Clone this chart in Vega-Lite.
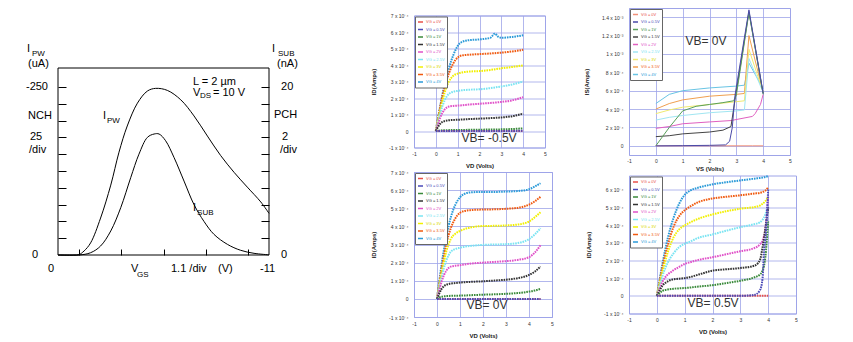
{
"$schema":"https://vega.github.io/schema/vega-lite/v6.json",
"padding":{"left":25,"top":7,"right":0,"bottom":0},
"background":"white",
"spacing":72,
"resolve":{"scale":{"color":"independent"},"legend":{"color":"independent"}},
"datasets":{
"ipw":[{"vgs":0,"ipw":0},{"vgs":-0.83,"ipw":0},{"vgs":-1.09,"ipw":-0.5},{"vgs":-1.36,"ipw":-6},{"vgs":-1.7,"ipw":-18},{"vgs":-2.22,"ipw":-55},{"vgs":-2.75,"ipw":-104},{"vgs":-3.18,"ipw":-153},{"vgs":-3.61,"ipw":-192},{"vgs":-4.14,"ipw":-226},{"vgs":-4.66,"ipw":-244},{"vgs":-5.09,"ipw":-248},{"vgs":-5.7,"ipw":-245},{"vgs":-6.4,"ipw":-231},{"vgs":-7.09,"ipw":-207},{"vgs":-7.79,"ipw":-177},{"vgs":-8.48,"ipw":-148},{"vgs":-9.18,"ipw":-123},{"vgs":-9.87,"ipw":-101},{"vgs":-10.57,"ipw":-79},{"vgs":-11,"ipw":-62}],
"isub":[{"vgs":0,"isub":0},{"vgs":-1.09,"isub":0},{"vgs":-1.7,"isub":0.27},{"vgs":-2.22,"isub":1.07},{"vgs":-2.75,"isub":2.86},{"vgs":-3.27,"isub":5.63},{"vgs":-3.79,"isub":9.2},{"vgs":-4.22,"isub":12.0},{"vgs":-4.66,"isub":14.0},{"vgs":-5.01,"isub":14.4},{"vgs":-5.27,"isub":14.4},{"vgs":-5.61,"isub":13.6},{"vgs":-6.05,"isub":11.6},{"vgs":-6.57,"isub":8.8},{"vgs":-7.09,"isub":6.0},{"vgs":-7.61,"isub":4.0},{"vgs":-8.13,"isub":2.46},{"vgs":-8.83,"isub":1.27},{"vgs":-9.52,"isub":0.56},{"vgs":-10.22,"isub":0.2},{"vgs":-11,"isub":0.02}],
"lt":[{"t":"I","x":1.62,"y":-306},{"t":"(uA)","x":1.56,"y":-284},{"t":"-250","x":1.67,"y":-250},{"t":"NCH","x":1.56,"y":-207},{"t":"25","x":1.46,"y":-175},{"t":"/div","x":1.51,"y":-157},{"t":"0","x":1.36,"y":0},{"t":"0","x":0.52,"y":21},{"t":"V","x":-3.81,"y":21},{"t":"1.1 /div","x":-5.89,"y":21},{"t":"(V)","x":-8.34,"y":21},{"t":"-11","x":-10.53,"y":21},{"t":"I","x":-11.16,"y":-306},{"t":"(nA)","x":-11.42,"y":-284},{"t":"20","x":-11.63,"y":-250},{"t":"PCH","x":-11.26,"y":-208},{"t":"2","x":-11.68,"y":-175},{"t":"/div","x":-11.57,"y":-157},{"t":"0","x":-11.63,"y":0},{"t":"I","x":-2.35,"y":-207},{"t":"I","x":-7.04,"y":-70},{"t":"L = 2 µm","x":-7.04,"y":-257},{"t":"V","x":-7.04,"y":-241},{"t":"= 10 V","x":-8.08,"y":-241}],
"ls":[{"t":"PW","x":1.36,"y":-299},{"t":"SUB","x":-11.47,"y":-299},{"t":"GS","x":-4.12,"y":30},{"t":"DS","x":-7.4,"y":-236},{"t":"PW","x":-2.55,"y":-199},{"t":"SUB","x":-7.25,"y":-62}],
"p1":[
{"g":"4V","v":0,"i":0},{"g":"4V","v":0.1,"i":0.8e-4},{"g":"4V","v":0.2,"i":1.5e-4},{"g":"4V","v":0.3,"i":2.2e-4},{"g":"4V","v":0.4,"i":2.8e-4},{"g":"4V","v":0.5,"i":3.3e-4},{"g":"4V","v":0.6,"i":3.8e-4},{"g":"4V","v":0.8,"i":4.6e-4},{"g":"4V","v":1,"i":5.15e-4},{"g":"4V","v":1.2,"i":5.4e-4},{"g":"4V","v":1.5,"i":5.5e-4},{"g":"4V","v":2,"i":5.55e-4},{"g":"4V","v":2.5,"i":5.65e-4},{"g":"4V","v":2.7,"i":5.9e-4},{"g":"4V","v":2.85,"i":5.72e-4},{"g":"4V","v":3,"i":5.65e-4},{"g":"4V","v":3.5,"i":5.7e-4},{"g":"4V","v":4,"i":5.8e-4},
{"g":"3.5V","v":0,"i":0},{"g":"3.5V","v":0.1,"i":0.75e-4},{"g":"3.5V","v":0.2,"i":1.45e-4},{"g":"3.5V","v":0.3,"i":2.1e-4},{"g":"3.5V","v":0.4,"i":2.65e-4},{"g":"3.5V","v":0.5,"i":3.1e-4},{"g":"3.5V","v":0.6,"i":3.5e-4},{"g":"3.5V","v":0.8,"i":4.1e-4},{"g":"3.5V","v":1,"i":4.45e-4},{"g":"3.5V","v":1.2,"i":4.58e-4},{"g":"3.5V","v":1.5,"i":4.62e-4},{"g":"3.5V","v":2,"i":4.66e-4},{"g":"3.5V","v":2.5,"i":4.7e-4},{"g":"3.5V","v":3,"i":4.75e-4},{"g":"3.5V","v":3.5,"i":4.82e-4},{"g":"3.5V","v":4,"i":4.92e-4},
{"g":"3V","v":0,"i":0},{"g":"3V","v":0.1,"i":0.65e-4},{"g":"3V","v":0.2,"i":1.25e-4},{"g":"3V","v":0.3,"i":1.8e-4},{"g":"3V","v":0.4,"i":2.3e-4},{"g":"3V","v":0.5,"i":2.7e-4},{"g":"3V","v":0.6,"i":3.0e-4},{"g":"3V","v":0.8,"i":3.35e-4},{"g":"3V","v":1,"i":3.48e-4},{"g":"3V","v":1.2,"i":3.55e-4},{"g":"3V","v":1.5,"i":3.6e-4},{"g":"3V","v":2,"i":3.63e-4},{"g":"3V","v":2.5,"i":3.7e-4},{"g":"3V","v":3,"i":3.8e-4},{"g":"3V","v":3.5,"i":3.88e-4},{"g":"3V","v":4,"i":3.98e-4},
{"g":"2.5V","v":0,"i":0},{"g":"2.5V","v":0.1,"i":0.55e-4},{"g":"2.5V","v":0.2,"i":1.05e-4},{"g":"2.5V","v":0.3,"i":1.5e-4},{"g":"2.5V","v":0.4,"i":1.85e-4},{"g":"2.5V","v":0.5,"i":2.1e-4},{"g":"2.5V","v":0.6,"i":2.25e-4},{"g":"2.5V","v":0.8,"i":2.38e-4},{"g":"2.5V","v":1,"i":2.43e-4},{"g":"2.5V","v":1.2,"i":2.47e-4},{"g":"2.5V","v":1.5,"i":2.5e-4},{"g":"2.5V","v":2,"i":2.53e-4},{"g":"2.5V","v":2.5,"i":2.6e-4},{"g":"2.5V","v":3,"i":2.7e-4},{"g":"2.5V","v":3.5,"i":2.82e-4},{"g":"2.5V","v":4,"i":3.0e-4},
{"g":"2V","v":0,"i":0},{"g":"2V","v":0.1,"i":0.42e-4},{"g":"2V","v":0.2,"i":0.8e-4},{"g":"2V","v":0.3,"i":1.1e-4},{"g":"2V","v":0.4,"i":1.3e-4},{"g":"2V","v":0.5,"i":1.42e-4},{"g":"2V","v":0.6,"i":1.48e-4},{"g":"2V","v":0.8,"i":1.52e-4},{"g":"2V","v":1,"i":1.54e-4},{"g":"2V","v":1.2,"i":1.56e-4},{"g":"2V","v":1.5,"i":1.6e-4},{"g":"2V","v":2,"i":1.65e-4},{"g":"2V","v":2.5,"i":1.7e-4},{"g":"2V","v":3,"i":1.76e-4},{"g":"2V","v":3.5,"i":1.86e-4},{"g":"2V","v":4,"i":2.05e-4},
{"g":"1.5V","v":0,"i":0},{"g":"1.5V","v":0.1,"i":0.25e-4},{"g":"1.5V","v":0.2,"i":0.44e-4},{"g":"1.5V","v":0.3,"i":0.55e-4},{"g":"1.5V","v":0.4,"i":0.6e-4},{"g":"1.5V","v":0.5,"i":0.63e-4},{"g":"1.5V","v":0.6,"i":0.65e-4},{"g":"1.5V","v":0.8,"i":0.67e-4},{"g":"1.5V","v":1,"i":0.68e-4},{"g":"1.5V","v":1.5,"i":0.72e-4},{"g":"1.5V","v":2,"i":0.75e-4},{"g":"1.5V","v":2.5,"i":0.78e-4},{"g":"1.5V","v":3,"i":0.82e-4},{"g":"1.5V","v":3.5,"i":0.9e-4},{"g":"1.5V","v":4,"i":1.05e-4},
{"g":"1V","v":0,"i":0},{"g":"1V","v":0.2,"i":0.03e-4},{"g":"1V","v":0.5,"i":0.05e-4},{"g":"1V","v":1,"i":0.06e-4},{"g":"1V","v":2,"i":0.08e-4},{"g":"1V","v":3,"i":0.1e-4},{"g":"1V","v":3.5,"i":0.12e-4},{"g":"1V","v":4,"i":0.16e-4},
{"g":"0V","v":0,"i":0},{"g":"0V","v":2,"i":0},{"g":"0V","v":4,"i":0},
{"g":"0.5V","v":0,"i":0},{"g":"0.5V","v":2,"i":0},{"g":"0.5V","v":4,"i":0.01e-4}
],
"p2":[
{"g":"4V","v":0,"i":4.6e-4},{"g":"4V","v":0.5,"i":5.6e-4},{"g":"4V","v":1,"i":6.0e-4},{"g":"4V","v":2,"i":6.3e-4},{"g":"4V","v":3,"i":6.5e-4},{"g":"4V","v":3.3,"i":6.6e-4},{"g":"4V","v":3.47,"i":9.0e-4},{"g":"4V","v":4,"i":6.2e-4},
{"g":"3.5V","v":0,"i":4.0e-4},{"g":"3.5V","v":0.5,"i":4.6e-4},{"g":"3.5V","v":1,"i":5.0e-4},{"g":"3.5V","v":2,"i":5.4e-4},{"g":"3.5V","v":3,"i":5.6e-4},{"g":"3.5V","v":3.3,"i":5.7e-4},{"g":"3.5V","v":3.47,"i":12e-4},{"g":"3.5V","v":4,"i":5.8e-4},
{"g":"3V","v":0,"i":3.5e-4},{"g":"3V","v":0.5,"i":3.9e-4},{"g":"3V","v":1,"i":4.2e-4},{"g":"3V","v":2,"i":4.5e-4},{"g":"3V","v":3,"i":4.8e-4},{"g":"3V","v":3.3,"i":4.9e-4},{"g":"3V","v":3.47,"i":10.5e-4},{"g":"3V","v":4,"i":5.8e-4},
{"g":"2.5V","v":0,"i":2.8e-4},{"g":"2.5V","v":0.5,"i":3.1e-4},{"g":"2.5V","v":1,"i":3.3e-4},{"g":"2.5V","v":2,"i":3.6e-4},{"g":"2.5V","v":3,"i":3.8e-4},{"g":"2.5V","v":3.3,"i":3.9e-4},{"g":"2.5V","v":3.47,"i":9.5e-4},{"g":"2.5V","v":4,"i":5.8e-4},
{"g":"2V","v":0,"i":1.9e-4},{"g":"2V","v":0.5,"i":2.1e-4},{"g":"2V","v":1,"i":2.4e-4},{"g":"2V","v":2,"i":2.6e-4},{"g":"2V","v":2.8,"i":2.75e-4},{"g":"2V","v":3.6,"i":3.2e-4},{"g":"2V","v":3.7,"i":3.5e-4},{"g":"2V","v":3.9,"i":4.5e-4},{"g":"2V","v":4,"i":5.6e-4},
{"g":"1.5V","v":0,"i":1.0e-4},{"g":"1.5V","v":0.5,"i":1.1e-4},{"g":"1.5V","v":1,"i":1.3e-4},{"g":"1.5V","v":2,"i":1.5e-4},{"g":"1.5V","v":2.5,"i":1.7e-4},{"g":"1.5V","v":2.8,"i":2.1e-4},{"g":"1.5V","v":2.95,"i":5.0e-4},{"g":"1.5V","v":3.47,"i":14.6e-4},{"g":"1.5V","v":4,"i":5.7e-4},
{"g":"1V","v":0,"i":0},{"g":"1V","v":0.5,"i":2.0e-4},{"g":"1V","v":1,"i":3.8e-4},{"g":"1V","v":1.5,"i":4.3e-4},{"g":"1V","v":2,"i":4.5e-4},{"g":"1V","v":2.5,"i":4.7e-4},{"g":"1V","v":2.9,"i":4.9e-4},{"g":"1V","v":3,"i":5.5e-4},{"g":"1V","v":3.47,"i":14.5e-4},{"g":"1V","v":4,"i":5.6e-4},
{"g":"0V","v":0,"i":0},{"g":"0V","v":2,"i":0},{"g":"0V","v":3.6,"i":0},{"g":"0V","v":4,"i":0},
{"g":"0.5V","v":0,"i":0},{"g":"0.5V","v":1,"i":0.02e-4},{"g":"0.5V","v":2,"i":0.05e-4},{"g":"0.5V","v":2.6,"i":0.1e-4},{"g":"0.5V","v":2.75,"i":0.5e-4},{"g":"0.5V","v":2.85,"i":2.0e-4},{"g":"0.5V","v":2.95,"i":5.5e-4},{"g":"0.5V","v":3.47,"i":14.8e-4},{"g":"0.5V","v":4,"i":5.7e-4}
],
"p3":[
{"g":"4V","v":0,"i":0},{"g":"4V","v":0.1,"i":1.0e-4},{"g":"4V","v":0.2,"i":1.9e-4},{"g":"4V","v":0.3,"i":2.7e-4},{"g":"4V","v":0.4,"i":3.4e-4},{"g":"4V","v":0.5,"i":4.0e-4},{"g":"4V","v":0.6,"i":4.5e-4},{"g":"4V","v":0.8,"i":5.2e-4},{"g":"4V","v":1,"i":5.6e-4},{"g":"4V","v":1.2,"i":5.8e-4},{"g":"4V","v":1.5,"i":5.88e-4},{"g":"4V","v":2,"i":5.9e-4},{"g":"4V","v":2.5,"i":5.9e-4},{"g":"4V","v":3,"i":5.92e-4},{"g":"4V","v":3.5,"i":5.95e-4},{"g":"4V","v":4,"i":6.05e-4},{"g":"4V","v":4.25,"i":6.2e-4},{"g":"4V","v":4.5,"i":6.38e-4},
{"g":"3.5V","v":0,"i":0},{"g":"3.5V","v":0.1,"i":0.85e-4},{"g":"3.5V","v":0.2,"i":1.65e-4},{"g":"3.5V","v":0.3,"i":2.35e-4},{"g":"3.5V","v":0.4,"i":3.0e-4},{"g":"3.5V","v":0.5,"i":3.5e-4},{"g":"3.5V","v":0.6,"i":3.9e-4},{"g":"3.5V","v":0.8,"i":4.45e-4},{"g":"3.5V","v":1,"i":4.75e-4},{"g":"3.5V","v":1.2,"i":4.85e-4},{"g":"3.5V","v":1.5,"i":4.9e-4},{"g":"3.5V","v":2,"i":4.93e-4},{"g":"3.5V","v":2.5,"i":4.94e-4},{"g":"3.5V","v":3,"i":4.97e-4},{"g":"3.5V","v":3.5,"i":5.02e-4},{"g":"3.5V","v":4,"i":5.2e-4},{"g":"3.5V","v":4.25,"i":5.38e-4},{"g":"3.5V","v":4.5,"i":5.63e-4},
{"g":"3V","v":0,"i":0},{"g":"3V","v":0.1,"i":0.75e-4},{"g":"3V","v":0.2,"i":1.45e-4},{"g":"3V","v":0.3,"i":2.05e-4},{"g":"3V","v":0.4,"i":2.6e-4},{"g":"3V","v":0.5,"i":3.0e-4},{"g":"3V","v":0.6,"i":3.3e-4},{"g":"3V","v":0.8,"i":3.6e-4},{"g":"3V","v":1,"i":3.75e-4},{"g":"3V","v":1.2,"i":3.85e-4},{"g":"3V","v":1.5,"i":3.95e-4},{"g":"3V","v":2,"i":4.02e-4},{"g":"3V","v":2.5,"i":4.03e-4},{"g":"3V","v":3,"i":4.05e-4},{"g":"3V","v":3.5,"i":4.1e-4},{"g":"3V","v":4,"i":4.27e-4},{"g":"3V","v":4.25,"i":4.5e-4},{"g":"3V","v":4.5,"i":4.78e-4},
{"g":"2.5V","v":0,"i":0},{"g":"2.5V","v":0.1,"i":0.6e-4},{"g":"2.5V","v":0.2,"i":1.2e-4},{"g":"2.5V","v":0.3,"i":1.7e-4},{"g":"2.5V","v":0.4,"i":2.1e-4},{"g":"2.5V","v":0.5,"i":2.4e-4},{"g":"2.5V","v":0.6,"i":2.6e-4},{"g":"2.5V","v":0.8,"i":2.75e-4},{"g":"2.5V","v":1,"i":2.82e-4},{"g":"2.5V","v":1.2,"i":2.88e-4},{"g":"2.5V","v":1.5,"i":2.93e-4},{"g":"2.5V","v":2,"i":2.98e-4},{"g":"2.5V","v":2.5,"i":3.0e-4},{"g":"2.5V","v":3,"i":3.02e-4},{"g":"2.5V","v":3.5,"i":3.08e-4},{"g":"2.5V","v":4,"i":3.3e-4},{"g":"2.5V","v":4.25,"i":3.55e-4},{"g":"2.5V","v":4.5,"i":3.9e-4},
{"g":"2V","v":0,"i":0},{"g":"2V","v":0.1,"i":0.5e-4},{"g":"2V","v":0.2,"i":0.95e-4},{"g":"2V","v":0.3,"i":1.3e-4},{"g":"2V","v":0.4,"i":1.55e-4},{"g":"2V","v":0.5,"i":1.7e-4},{"g":"2V","v":0.6,"i":1.78e-4},{"g":"2V","v":0.8,"i":1.83e-4},{"g":"2V","v":1,"i":1.86e-4},{"g":"2V","v":1.2,"i":1.9e-4},{"g":"2V","v":1.5,"i":1.95e-4},{"g":"2V","v":2,"i":2.0e-4},{"g":"2V","v":2.5,"i":2.04e-4},{"g":"2V","v":3,"i":2.08e-4},{"g":"2V","v":3.5,"i":2.15e-4},{"g":"2V","v":4,"i":2.3e-4},{"g":"2V","v":4.25,"i":2.55e-4},{"g":"2V","v":4.5,"i":2.96e-4},
{"g":"1.5V","v":0,"i":0},{"g":"1.5V","v":0.1,"i":0.3e-4},{"g":"1.5V","v":0.2,"i":0.55e-4},{"g":"1.5V","v":0.3,"i":0.7e-4},{"g":"1.5V","v":0.4,"i":0.78e-4},{"g":"1.5V","v":0.5,"i":0.82e-4},{"g":"1.5V","v":0.6,"i":0.85e-4},{"g":"1.5V","v":0.8,"i":0.87e-4},{"g":"1.5V","v":1,"i":0.9e-4},{"g":"1.5V","v":1.2,"i":0.92e-4},{"g":"1.5V","v":1.5,"i":0.94e-4},{"g":"1.5V","v":2,"i":0.97e-4},{"g":"1.5V","v":2.5,"i":1.01e-4},{"g":"1.5V","v":3,"i":1.06e-4},{"g":"1.5V","v":3.5,"i":1.14e-4},{"g":"1.5V","v":4,"i":1.32e-4},{"g":"1.5V","v":4.25,"i":1.5e-4},{"g":"1.5V","v":4.5,"i":1.79e-4},
{"g":"1V","v":0,"i":0},{"g":"1V","v":0.1,"i":0.08e-4},{"g":"1V","v":0.2,"i":0.12e-4},{"g":"1V","v":0.5,"i":0.16e-4},{"g":"1V","v":1,"i":0.18e-4},{"g":"1V","v":2,"i":0.23e-4},{"g":"1V","v":3,"i":0.28e-4},{"g":"1V","v":3.5,"i":0.32e-4},{"g":"1V","v":4,"i":0.4e-4},{"g":"1V","v":4.25,"i":0.46e-4},{"g":"1V","v":4.5,"i":0.55e-4},
{"g":"0V","v":0,"i":0},{"g":"0V","v":2,"i":0},{"g":"0V","v":4.5,"i":0},
{"g":"0.5V","v":0,"i":0},{"g":"0.5V","v":2,"i":0},{"g":"0.5V","v":4.5,"i":0}
],
"p4":[
{"g":"4V","v":0,"i":0},{"g":"4V","v":0.1,"i":0.9e-4},{"g":"4V","v":0.2,"i":1.8e-4},{"g":"4V","v":0.3,"i":2.6e-4},{"g":"4V","v":0.4,"i":3.3e-4},{"g":"4V","v":0.5,"i":3.9e-4},{"g":"4V","v":0.6,"i":4.4e-4},{"g":"4V","v":0.8,"i":5.2e-4},{"g":"4V","v":1,"i":5.7e-4},{"g":"4V","v":1.2,"i":5.95e-4},{"g":"4V","v":1.5,"i":6.12e-4},{"g":"4V","v":2,"i":6.3e-4},{"g":"4V","v":2.5,"i":6.42e-4},{"g":"4V","v":3,"i":6.52e-4},{"g":"4V","v":3.5,"i":6.62e-4},{"g":"4V","v":3.7,"i":6.66e-4},{"g":"4V","v":3.8,"i":6.68e-4},{"g":"4V","v":3.9,"i":6.72e-4},{"g":"4V","v":4,"i":6.76e-4},
{"g":"3.5V","v":0,"i":0},{"g":"3.5V","v":0.1,"i":0.8e-4},{"g":"3.5V","v":0.2,"i":1.6e-4},{"g":"3.5V","v":0.3,"i":2.3e-4},{"g":"3.5V","v":0.4,"i":2.9e-4},{"g":"3.5V","v":0.5,"i":3.45e-4},{"g":"3.5V","v":0.6,"i":3.9e-4},{"g":"3.5V","v":0.8,"i":4.5e-4},{"g":"3.5V","v":1,"i":4.83e-4},{"g":"3.5V","v":1.2,"i":5.05e-4},{"g":"3.5V","v":1.5,"i":5.3e-4},{"g":"3.5V","v":2,"i":5.5e-4},{"g":"3.5V","v":2.5,"i":5.6e-4},{"g":"3.5V","v":3,"i":5.68e-4},{"g":"3.5V","v":3.5,"i":5.78e-4},{"g":"3.5V","v":3.7,"i":5.82e-4},{"g":"3.5V","v":3.8,"i":5.87e-4},{"g":"3.5V","v":3.9,"i":5.95e-4},{"g":"3.5V","v":4,"i":6.12e-4},
{"g":"3V","v":0,"i":0},{"g":"3V","v":0.1,"i":0.7e-4},{"g":"3V","v":0.2,"i":1.35e-4},{"g":"3V","v":0.3,"i":1.95e-4},{"g":"3V","v":0.4,"i":2.5e-4},{"g":"3V","v":0.5,"i":2.94e-4},{"g":"3V","v":0.6,"i":3.3e-4},{"g":"3V","v":0.8,"i":3.75e-4},{"g":"3V","v":1,"i":3.98e-4},{"g":"3V","v":1.2,"i":4.15e-4},{"g":"3V","v":1.5,"i":4.36e-4},{"g":"3V","v":2,"i":4.6e-4},{"g":"3V","v":2.5,"i":4.78e-4},{"g":"3V","v":3,"i":4.92e-4},{"g":"3V","v":3.5,"i":5.02e-4},{"g":"3V","v":3.7,"i":5.1e-4},{"g":"3V","v":3.8,"i":5.2e-4},{"g":"3V","v":3.9,"i":5.35e-4},{"g":"3V","v":4,"i":5.59e-4},
{"g":"2.5V","v":0,"i":0},{"g":"2.5V","v":0.1,"i":0.55e-4},{"g":"2.5V","v":0.2,"i":1.1e-4},{"g":"2.5V","v":0.3,"i":1.55e-4},{"g":"2.5V","v":0.4,"i":1.9e-4},{"g":"2.5V","v":0.5,"i":2.18e-4},{"g":"2.5V","v":0.6,"i":2.4e-4},{"g":"2.5V","v":0.8,"i":2.75e-4},{"g":"2.5V","v":1,"i":2.94e-4},{"g":"2.5V","v":1.2,"i":3.07e-4},{"g":"2.5V","v":1.5,"i":3.28e-4},{"g":"2.5V","v":2,"i":3.47e-4},{"g":"2.5V","v":2.5,"i":3.68e-4},{"g":"2.5V","v":3,"i":3.88e-4},{"g":"2.5V","v":3.5,"i":4.05e-4},{"g":"2.5V","v":3.7,"i":4.15e-4},{"g":"2.5V","v":3.8,"i":4.3e-4},{"g":"2.5V","v":3.9,"i":4.6e-4},{"g":"2.5V","v":4,"i":5.2e-4},
{"g":"2V","v":0,"i":0},{"g":"2V","v":0.1,"i":0.4e-4},{"g":"2V","v":0.2,"i":0.78e-4},{"g":"2V","v":0.3,"i":1.04e-4},{"g":"2V","v":0.4,"i":1.22e-4},{"g":"2V","v":0.5,"i":1.33e-4},{"g":"2V","v":0.6,"i":1.45e-4},{"g":"2V","v":0.8,"i":1.63e-4},{"g":"2V","v":1,"i":1.8e-4},{"g":"2V","v":1.2,"i":1.9e-4},{"g":"2V","v":1.5,"i":2.03e-4},{"g":"2V","v":2,"i":2.18e-4},{"g":"2V","v":2.5,"i":2.35e-4},{"g":"2V","v":3,"i":2.52e-4},{"g":"2V","v":3.5,"i":2.7e-4},{"g":"2V","v":3.7,"i":2.9e-4},{"g":"2V","v":3.8,"i":3.12e-4},{"g":"2V","v":3.9,"i":3.8e-4},{"g":"2V","v":4,"i":5.6e-4},
{"g":"1.5V","v":0,"i":0},{"g":"1.5V","v":0.1,"i":0.3e-4},{"g":"1.5V","v":0.2,"i":0.57e-4},{"g":"1.5V","v":0.3,"i":0.72e-4},{"g":"1.5V","v":0.4,"i":0.82e-4},{"g":"1.5V","v":0.5,"i":0.9e-4},{"g":"1.5V","v":0.6,"i":0.93e-4},{"g":"1.5V","v":0.8,"i":0.97e-4},{"g":"1.5V","v":1,"i":1.0e-4},{"g":"1.5V","v":1.2,"i":1.06e-4},{"g":"1.5V","v":1.5,"i":1.2e-4},{"g":"1.5V","v":2,"i":1.42e-4},{"g":"1.5V","v":2.5,"i":1.5e-4},{"g":"1.5V","v":3,"i":1.57e-4},{"g":"1.5V","v":3.5,"i":1.7e-4},{"g":"1.5V","v":3.7,"i":2.0e-4},{"g":"1.5V","v":3.8,"i":2.75e-4},{"g":"1.5V","v":3.9,"i":3.8e-4},{"g":"1.5V","v":4,"i":5.0e-4},
{"g":"1V","v":0,"i":0},{"g":"1V","v":0.1,"i":0.15e-4},{"g":"1V","v":0.2,"i":0.28e-4},{"g":"1V","v":0.3,"i":0.33e-4},{"g":"1V","v":0.4,"i":0.36e-4},{"g":"1V","v":0.5,"i":0.38e-4},{"g":"1V","v":0.6,"i":0.4e-4},{"g":"1V","v":0.8,"i":0.42e-4},{"g":"1V","v":1,"i":0.44e-4},{"g":"1V","v":1.2,"i":0.47e-4},{"g":"1V","v":1.5,"i":0.52e-4},{"g":"1V","v":2,"i":0.6e-4},{"g":"1V","v":2.5,"i":0.72e-4},{"g":"1V","v":3,"i":0.85e-4},{"g":"1V","v":3.5,"i":1.04e-4},{"g":"1V","v":3.7,"i":1.2e-4},{"g":"1V","v":3.8,"i":1.42e-4},{"g":"1V","v":3.9,"i":2.2e-4},{"g":"1V","v":4,"i":4.2e-4},
{"g":"0V","v":0,"i":0},{"g":"0V","v":2,"i":0},{"g":"0V","v":4,"i":0},
{"g":"0.5V","v":0,"i":0},{"g":"0.5V","v":1,"i":0},{"g":"0.5V","v":2,"i":0},{"g":"0.5V","v":3,"i":0},{"g":"0.5V","v":3.5,"i":0.05e-4},{"g":"0.5V","v":3.7,"i":0.3e-4},{"g":"0.5V","v":3.8,"i":1.0e-4},{"g":"0.5V","v":3.85,"i":2.5e-4},{"g":"0.5V","v":3.9,"i":3.2e-4},{"g":"0.5V","v":4,"i":6.0e-4}
]
},
"hconcat":[
{
"width":211,"height":247,
"view":{"stroke":null,"fill":"white"},
"layer":[
{"data":{"values":[{"x1":0,"x2":-11,"y1":0,"y2":-278.3}]},"mark":{"type":"rect","filled":false,"color":"black","strokeWidth":1},
"encoding":{
"x":{"field":"x1","type":"quantitative","scale":{"domain":[0,-11],"nice":false,"zero":false},"axis":{"values":[-1.1,-2.2,-3.3,-4.4,-5.5,-6.6,-7.7,-8.8,-9.9],"labels":false,"ticks":true,"tickSize":-6,"tickColor":"black","tickWidth":1,"grid":false,"domain":false,"title":null}},
"x2":{"field":"x2"},
"y":{"field":"y1","type":"quantitative","scale":{"domain":[0,-367.6],"nice":false,"zero":false},"axis":{"values":[-25,-50,-75,-100,-125,-150,-175,-200,-225,-250],"labels":false,"ticks":true,"tickSize":-8,"tickColor":"black","tickWidth":1,"grid":false,"domain":false,"title":null}},
"y2":{"field":"y2"}}},
{"data":{"name":"ipw"},"mark":{"type":"line","color":"black","strokeWidth":1,"interpolate":"catmull-rom"},
"encoding":{
"x":{"field":"vgs","type":"quantitative","scale":{"domain":[0,-11],"nice":false,"zero":false},"title":null},
"y":{"field":"ipw","type":"quantitative","scale":{"domain":[0,-367.6],"nice":false,"zero":false},"axis":null}}},
{"data":{"name":"isub"},"mark":{"type":"line","color":"black","strokeWidth":1,"interpolate":"catmull-rom"},
"encoding":{
"x":{"field":"vgs","type":"quantitative","scale":{"domain":[0,-11],"nice":false,"zero":false},"title":null},
"y":{"field":"isub","type":"quantitative","scale":{"domain":[0,29.4],"nice":false,"zero":false},"axis":{"orient":"right","values":[2,4,6,8,10,12,14,16,18,20],"labels":false,"ticks":true,"tickSize":-8,"tickColor":"black","tickWidth":1,"grid":false,"domain":false,"title":null}}}},
{"data":{"name":"lt"},"mark":{"type":"text","align":"left","baseline":"middle","fontSize":11,"color":"black"},
"encoding":{
"x":{"field":"x","type":"quantitative","scale":{"domain":[0,-11],"nice":false,"zero":false},"title":null},
"y":{"field":"y","type":"quantitative","scale":{"domain":[0,-367.6],"nice":false,"zero":false},"axis":null},
"text":{"field":"t"}}},
{"data":{"name":"ls"},"mark":{"type":"text","align":"left","baseline":"middle","fontSize":8,"color":"black"},
"encoding":{
"x":{"field":"x","type":"quantitative","scale":{"domain":[0,-11],"nice":false,"zero":false},"title":null},
"y":{"field":"y","type":"quantitative","scale":{"domain":[0,-367.6],"nice":false,"zero":false},"axis":null},
"text":{"field":"t"}}}
],
"resolve":{"scale":{"y":"independent"}}
},
{
"vconcat":[
{
"hconcat":[
{
"width":131,"height":132,
"layer":[
{"data":{"name":"p1"},"mark":{"type":"line","strokeWidth":2,"strokeDash":[1.6,0.9],"interpolate":"monotone"},
"encoding":{
"x":{"field":"v","type":"quantitative","scale":{"domain":[-1,5],"nice":false},"axis":{"values":[-1,0,1,2,3,4,5],"labelExpr":"'' + datum.value","title":"VD (Volts)"}},
"y":{"field":"i","type":"quantitative","scale":{"domain":[-0.0001,0.0007],"nice":false},"axis":{"values":[-0.0001,0,0.0001,0.0002,0.0003,0.0004,0.0005,0.0006,0.0007],"labelExpr":"datum.value == 0 ? '0' : (round(datum.value*1e4) + ' x 10⁻⁴')","title":"ID(Amps)"}},
"color":{"field":"g","type":"nominal","scale":{"domain":["0V","0.5V","1V","1.5V","2V","2.5V","3V","3.5V","4V"],"range":["#e8504a","#4a4ab8","#3a8a3a","#333333","#e050c8","#7ae4f2","#f2f000","#f05a10","#2a9ad8"]},
"legend":{"title":null,"labelExpr":"'VG = ' + datum.label","encode":{"labels":{"update":{"fill":{"signal":"datum.value == '0V' ? '#e8504a' : datum.value == '0.5V' ? '#4a4ab8' : datum.value == '1V' ? '#3a8a3a' : datum.value == '1.5V' ? '#333333' : datum.value == '2V' ? '#e050c8' : datum.value == '2.5V' ? '#7ae4f2' : datum.value == '3V' ? '#d8d800' : datum.value == '3.5V' ? '#f05a10' : '#2a9ad8'"}}}}}}}},
{"data":{"values":[{"t":"VB= -0.5V","v":2.44,"i":-0.000045}]},"mark":{"type":"text","fontSize":12,"color":"#333"},
"encoding":{
"x":{"field":"v","type":"quantitative","scale":{"domain":[-1,5],"nice":false},"axis":{"values":[-1,0,1,2,3,4,5],"labelExpr":"'' + datum.value","title":"VD (Volts)"}},
"y":{"field":"i","type":"quantitative","scale":{"domain":[-0.0001,0.0007],"nice":false},"axis":{"values":[-0.0001,0,0.0001,0.0002,0.0003,0.0004,0.0005,0.0006,0.0007],"labelExpr":"datum.value == 0 ? '0' : (round(datum.value*1e4) + ' x 10⁻⁴')","title":"ID(Amps)"}},
"text":{"field":"t"}}}
]
},
{
"width":161,"height":147,
"layer":[
{"data":{"name":"p2"},"mark":{"type":"line","strokeWidth":1},
"encoding":{
"x":{"field":"v","type":"quantitative","scale":{"domain":[-1,5],"nice":false},"axis":{"values":[-1,0,1,2,3,4,5],"labelExpr":"'' + datum.value","title":"VS (Volts)","labelPadding":3,"titlePadding":2}},
"y":{"field":"i","type":"quantitative","scale":{"domain":[-0.0001,0.0015],"nice":false},"axis":{"values":[0,0.0002,0.0004,0.0006,0.0008,0.001,0.0012,0.0014],"labelExpr":"datum.value == 0 ? '0' : datum.value > 0.00095 ? (round(datum.value*1e4)/10 + ' x 10⁻³') : (round(datum.value*1e4) + ' x 10⁻⁴')","title":"IS(Amps)"}},
"color":{"field":"g","type":"nominal","scale":{"domain":["0V","0.5V","1V","1.5V","2V","2.5V","3V","3.5V","4V"],"range":["#f0907a","#4a4aa8","#5aa05a","#444444","#e060c0","#a0e6f2","#f0ea70","#f0a050","#68c4e4"]},
"legend":{"title":null,"labelExpr":"'VG = ' + datum.label","encode":{"labels":{"update":{"fill":{"signal":"datum.value == '0V' ? '#e8504a' : datum.value == '0.5V' ? '#4a4ab8' : datum.value == '1V' ? '#3a8a3a' : datum.value == '1.5V' ? '#333333' : datum.value == '2V' ? '#e050c8' : datum.value == '2.5V' ? '#7ae4f2' : datum.value == '3V' ? '#d8d800' : datum.value == '3.5V' ? '#f05a10' : '#2a9ad8'"}}}}}}}},
{"data":{"values":[{"t":"VB= 0V","v":1.87,"i":0.00114}]},"mark":{"type":"text","fontSize":12,"color":"#333"},
"encoding":{
"x":{"field":"v","type":"quantitative","scale":{"domain":[-1,5],"nice":false},"axis":{"values":[-1,0,1,2,3,4,5],"labelExpr":"'' + datum.value","title":"VS (Volts)","labelPadding":3,"titlePadding":2}},
"y":{"field":"i","type":"quantitative","scale":{"domain":[-0.0001,0.0015],"nice":false},"axis":{"values":[0,0.0002,0.0004,0.0006,0.0008,0.001,0.0012,0.0014],"labelExpr":"datum.value == 0 ? '0' : datum.value > 0.00095 ? (round(datum.value*1e4)/10 + ' x 10⁻³') : (round(datum.value*1e4) + ' x 10⁻⁴')","title":"IS(Amps)"}},
"text":{"field":"t"}}}
]
}
],
"spacing":84,"center":true,"bounds":"flush",
"resolve":{"scale":{"color":"independent"},"legend":{"color":"independent"}}
},
{
"hconcat":[
{
"width":138,"height":145,
"layer":[
{"data":{"name":"p3"},"mark":{"type":"line","strokeWidth":2,"strokeDash":[1.6,0.9],"interpolate":"monotone"},
"encoding":{
"x":{"field":"v","type":"quantitative","scale":{"domain":[-1,5],"nice":false},"axis":{"values":[-1,0,1,2,3,4,5],"labelExpr":"'' + datum.value","title":"VD (Volts)"}},
"y":{"field":"i","type":"quantitative","scale":{"domain":[-0.0001,0.0007],"nice":false},"axis":{"values":[-0.0001,0,0.0001,0.0002,0.0003,0.0004,0.0005,0.0006,0.0007],"labelExpr":"datum.value == 0 ? '0' : (round(datum.value*1e4) + ' x 10⁻⁴')","title":"ID(Amps)"}},
"color":{"field":"g","type":"nominal","scale":{"domain":["0V","0.5V","1V","1.5V","2V","2.5V","3V","3.5V","4V"],"range":["#e8504a","#4a4ab8","#3a8a3a","#333333","#e050c8","#7ae4f2","#f2f000","#f05a10","#2a9ad8"]},
"legend":{"title":null,"labelExpr":"'VG = ' + datum.label","encode":{"labels":{"update":{"fill":{"signal":"datum.value == '0V' ? '#e8504a' : datum.value == '0.5V' ? '#4a4ab8' : datum.value == '1V' ? '#3a8a3a' : datum.value == '1.5V' ? '#333333' : datum.value == '2V' ? '#e050c8' : datum.value == '2.5V' ? '#7ae4f2' : datum.value == '3V' ? '#d8d800' : datum.value == '3.5V' ? '#f05a10' : '#2a9ad8'"}}}}}}}},
{"data":{"values":[{"t":"VB= 0V","v":2.17,"i":-0.000036}]},"mark":{"type":"text","fontSize":12,"color":"#333"},
"encoding":{
"x":{"field":"v","type":"quantitative","scale":{"domain":[-1,5],"nice":false},"axis":{"values":[-1,0,1,2,3,4,5],"labelExpr":"'' + datum.value","title":"VD (Volts)"}},
"y":{"field":"i","type":"quantitative","scale":{"domain":[-0.0001,0.0007],"nice":false},"axis":{"values":[-0.0001,0,0.0001,0.0002,0.0003,0.0004,0.0005,0.0006,0.0007],"labelExpr":"datum.value == 0 ? '0' : (round(datum.value*1e4) + ' x 10⁻⁴')","title":"ID(Amps)"}},
"text":{"field":"t"}}}
]
},
{
"width":167,"height":138,
"layer":[
{"data":{"name":"p4"},"mark":{"type":"line","strokeWidth":2,"strokeDash":[1.6,0.9],"interpolate":"monotone"},
"encoding":{
"x":{"field":"v","type":"quantitative","scale":{"domain":[-1,5],"nice":false},"axis":{"values":[-1,0,1,2,3,4,5],"labelExpr":"'' + datum.value","title":"VD (Volts)"}},
"y":{"field":"i","type":"quantitative","scale":{"domain":[-0.0001,0.00068],"nice":false},"axis":{"values":[-0.0001,0,0.0001,0.0002,0.0003,0.0004,0.0005,0.0006],"labelExpr":"datum.value == 0 ? '0' : (round(datum.value*1e4) + ' x 10⁻⁴')","title":"ID(Amps)"}},
"color":{"field":"g","type":"nominal","scale":{"domain":["0V","0.5V","1V","1.5V","2V","2.5V","3V","3.5V","4V"],"range":["#e8504a","#4a4ab8","#3a8a3a","#333333","#e050c8","#7ae4f2","#f2f000","#f05a10","#2a9ad8"]},
"legend":{"title":null,"labelExpr":"'VG = ' + datum.label","encode":{"labels":{"update":{"fill":{"signal":"datum.value == '0V' ? '#e8504a' : datum.value == '0.5V' ? '#4a4ab8' : datum.value == '1V' ? '#3a8a3a' : datum.value == '1.5V' ? '#333333' : datum.value == '2V' ? '#e050c8' : datum.value == '2.5V' ? '#7ae4f2' : datum.value == '3V' ? '#d8d800' : datum.value == '3.5V' ? '#f05a10' : '#2a9ad8'"}}}}}}}},
{"data":{"values":[{"t":"VB= 0.5V","v":2.02,"i":-0.00004}]},"mark":{"type":"text","fontSize":12,"color":"#333"},
"encoding":{
"x":{"field":"v","type":"quantitative","scale":{"domain":[-1,5],"nice":false},"axis":{"values":[-1,0,1,2,3,4,5],"labelExpr":"'' + datum.value","title":"VD (Volts)"}},
"y":{"field":"i","type":"quantitative","scale":{"domain":[-0.0001,0.00068],"nice":false},"axis":{"values":[-0.0001,0,0.0001,0.0002,0.0003,0.0004,0.0005,0.0006],"labelExpr":"datum.value == 0 ? '0' : (round(datum.value*1e4) + ' x 10⁻⁴')","title":"ID(Amps)"}},
"text":{"field":"t"}}}
]
}
],
"spacing":77,"center":true,"bounds":"flush",
"resolve":{"scale":{"color":"independent"},"legend":{"color":"independent"}}
}
],
"spacing":-3,
"resolve":{"scale":{"color":"independent"},"legend":{"color":"independent"}}
}
],
"config":{
"font":"Liberation Sans",
"view":{"stroke":"#9ea4e8","strokeWidth":1},
"axis":{"labelFontSize":5,"labelColor":"#333","ticks":false,"domain":false,"grid":true,"gridColor":"#9ea4e8","gridWidth":0.8,"titleFontSize":6,"titleFontWeight":"bold","titleColor":"#222","labelPadding":4,"titlePadding":6,"labelOverlap":false,"labelFlush":false},
"axisY":{"titlePadding":12,"labelPadding":6},
"legend":{"orient":"top-left","offset":1,"padding":2,"rowPadding":0.5,"labelFontSize":4,"symbolSize":25,"symbolType":"stroke","symbolStrokeWidth":1.5,"strokeColor":"#666","fillColor":"white","labelOffset":2,"labelLimit":60}
}
}
